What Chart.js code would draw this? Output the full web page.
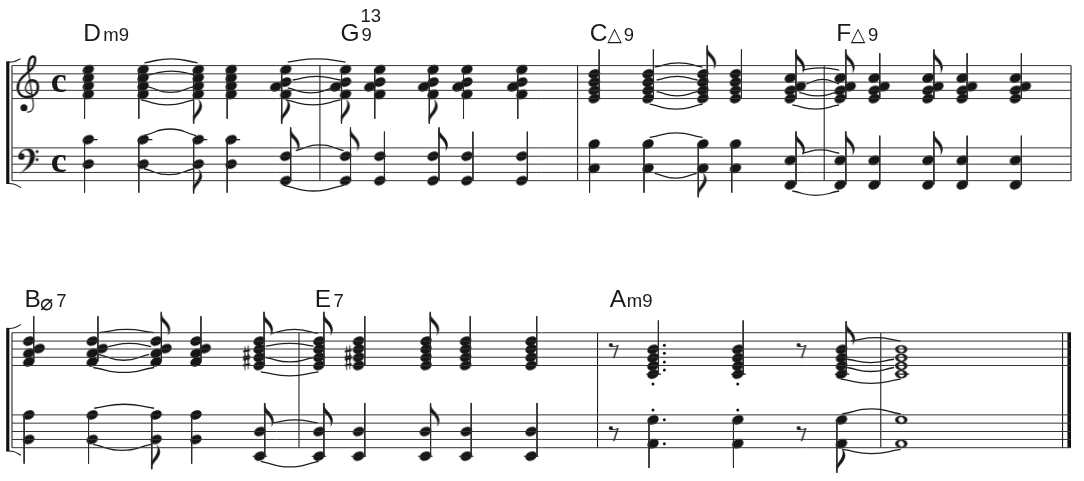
<!DOCTYPE html>
<html><head><meta charset="utf-8">
<style>html,body{margin:0;padding:0;background:#fff}canvas{display:block}</style>
<script src="https://cdn.jsdelivr.net/npm/chart.js@4/dist/chart.umd.min.js"></script>
</head><body><canvas id="c" width="1084" height="481"></canvas>
<script>
// ---------- staves ----------
const staffTop1 = [64.5,72.8,81.1,89.4,97.7];
const staffBot1 = [147.3,155.7,163.7,172,180.3];
const staffTop2 = [333.3,341.7,349.7,358,366.3];
const staffBot2 = [416,424.3,432.7,440.7,449];
const staffSpan = [10.5,1072.5];
const barsSys1 = [10.5,319.3,577.7,825,1072.5];
const barsSys2 = [10.5,298.3,597.7,881.7,1064];
const finalBar = [[1070.7,333.3],[1070.7,449]];
// ---------- chords: x positions and staff heights ----------
const dmX=[87,142,197.3,230.3], dmT=[68.6,77,85.2,93.5], dmB=[139,163.7];
const gX=[285,345,379.3,432.7,466.7,521.7], gT=[68.6,81.1,93.5], gB=[155.7,180.3];
const gXside=[275,335,369.3,423.3,457.7,512.7], gSide=[85.9];
const cX=[594.3,648.3,703.3,736], cT=[72.8,81.1,89.4,97.7], cB=[143.4,167.8];
const fX=[791,841,875,929,963.3,1016.7], fT=[77,89.4,97.7], fB=[159.8,184.5];
const fXside=[801,851,885,939,972.7,1026.7], fSide=[85.6];
const bX=[27.3,91,155,195], bT=[341.7,354,362.7], bB=[416,440.7];
const bXside=[37.7,101,165,204.3], bSide=[349.3];
const eXt=[258.3,318.3,358,425.7,465.3,531], eT=[341.7,349.7,358,366.3];
const eXb=[259,318.3,358,425,466,531], eB=[432.7,457.5];
const amX=[653.3,738.3,842.3], amT=[350,358.5,366.6,375], amB=[421,445];
const wholeX=[902.3];
// ---------- stems [x, top, bottom] ----------
const stemsA=[[83.3,68,118],[137.7,68,118],[192.7,68,123],[226.3,68,118],[281,68,123],[341,68,123],[374.3,68,118],[429,68,123],[463.3,68,118],[517.7,68,118],[599.3,48.3,98],[653.7,48.3,98],[707.7,44.3,98],[742,48.3,98],[796.7,48.3,98],[846.7,48.3,98],[880.7,52,98],[935,48.3,98],[968.3,52,98],[1022.7,52,98]];
const stemsB=[[83.3,138,192.3],[137.7,138,192.3],[192.7,138,193.3],[226.3,138,192.3],[290,126.7,180],[350,126.7,180],[384,131,180],[438.7,126.7,180],[472.7,131,180],[527.3,131,180],[589.7,143,192.3],[644.3,143,192.3],[698.7,143,197],[732.3,143,192.3],[796.7,130.7,184],[846.7,130.7,184],[880.7,135,184],[935,130.7,184],[968.3,135,184],[1022.7,135,184]];
const stemsC=[[32.3,316.7,362],[96.7,316.7,362],[160.3,312.3,362],[200,316.7,362],[263.3,312.3,366],[323.3,312.3,366],[364.3,316.7,366],[430,312.3,366],[470,316.7,366],[536.7,316.7,366],[658.7,321,375],[743.7,321,375],[847,321.7,375]];
const stemsD=[[22.7,416,465],[87.3,416,465],[150.7,416,470.7],[190.7,416,465],[264,404,458],[323.3,404,458],[364.3,404,458],[430.3,404,458],[471,404,458],[537,404,458],[649.3,421,469.3],[734,421,469.3],[837.7,421,474.3]];
// ---------- flags at stem ends ----------
const flagsUp=[[707.7,44.3],[796.7,48.3],[846.7,48.3],[935,48.3],[796.7,130.7],[846.7,130.7],[935,130.7],[290,126.7],[350,126.7],[438.7,126.7],[160.3,312.3],[263.3,312.3],[323.3,312.3],[430,312.3],[847,321.7],[264,404],[323.3,404],[430.3,404]];
const flagsDown=[[192.7,123],[281,123],[341,123],[429,123],[192.7,193.3],[698.7,197],[150.7,470.7],[837.7,474.3]];
// ---------- ties [x0, x1, endY, peakY] ----------
const ties=[[143.3,196.7,61.7,57.7],[147,194,74,70],[147,192,86,91.5],[140,193,99,104],[143,195,135,128.3],[143,192.7,168.3,174.3],
[287,345,61,57.7],[292,340,79,75.3],[287,333,87,92],[285,340,99,104],[295,343,150,144.3],[283,343,185,190.7],
[655,703,66,61.7],[657,698,79,75.3],[657,698,90.7,95],[650,703,103.3,108.3],[650,703,136.7,132.3],[655,697,173,177.7],
[803,840,69,66.7],[807,840,83,78.3],[800,837,91.7,95],[793,840,104,108.3],[803,840,152.7,149.3],[793,840,190.7,195],
[98,153,333.3,330],[107,150,347.3,344],[97,148,355,361],[92,153,368.3,373.3],[93,153,409.3,405.3],[92,150,445.7,451.7],
[270,317,334,330],[265,313,346.7,344],[265,313,358.3,362.7],[260,318,372.7,376.7],[272,317,424,421],[260,318,462.7,468.3],
[851.7,901.7,341.7,338.3],[848,895,360,363.3],[848,895,368.3,372.3],[841.7,901.7,380,384.3],[843,901.7,415,410],[843.3,901.7,450.7,455]];
// ---------- small marks ----------
const ledgers=[[89,139],[144,139],[199,139],[232,139],[259,457.6],[318.3,457.6],[358,457.6],[425,457.6],[466,457.6],[531,457.6],[654,375],[739,375],[843,375],[903,375]];
const dots=[[664.7,346],[664.7,354],[664.7,362.7],[664.7,370.7],[664.7,421],[664.7,445],[653.3,385],[738.3,385],[653.3,411],[738.3,411]];
const sharps=[[245.7,354.5],[245.7,362.5],[347.7,354.5],[347.7,362.5]];
const rests=[[611,345.7],[611,429.3],[799.3,345.7],[799.3,429.3]];
const trebleClef=[[26,83]], bassClef=[[26,160]];
// ---------- text: [string, x, baseline] ----------
const SANS='"Liberation Sans"', SYM='"DejaVu Sans"', SERIF='"Liberation Serif"';
const chordRoots=[["D",82,39.3],["G",340,39.3],["C",590,39.3],["F",837,39.3],["B",23,307.3],["E",314,307.3],["A",610,307.3]];
const chordExt=[["m9",102,39.3],["13",360,20.7],["9",361,39.3],["9",624,39.3],["9",869,39.3],["7",55,307.3],["7",333,307.3],["m9",627,307.3]];
const chordTri=[["△",607.5,39.8],["△",851.5,39.8]];
const chordSlash=[["⌀",38.5,310]];
const timeSig=[["c",49.5,91],["c",49.5,172]];

const INK='#161616', LINE='#2b2b2b';
function sprite(ex,ey,draw){const s=document.createElement('canvas');s.width=ex*2;s.height=ey*2;const g=s.getContext('2d');g.translate(ex,ey);g.fillStyle=INK;g.strokeStyle=INK;g.lineCap='round';draw(g);return s;}
const headSprite=sprite(9,8,g=>{g.beginPath();g.ellipse(0,0,6,4.4,-0.45,0,7);g.fill();});
const wholeSprite=sprite(10,8,g=>{g.beginPath();g.ellipse(0,0,6.2,4.2,0,0,7);g.ellipse(0,0,3,2.6,0.9,0,7);g.fill('evenodd');});
const flagUpSprite=sprite(12,26,g=>{g.beginPath();g.moveTo(-.6,0);g.bezierCurveTo(.5,6,4.5,8,7,12);g.bezierCurveTo(9.5,16,9.5,20,6.4,24);g.bezierCurveTo(8,19,6,13.5,-.6,9);g.closePath();g.fill();});
const flagDownSprite=sprite(12,28,g=>{g.beginPath();g.moveTo(-.6,0);g.bezierCurveTo(.5,-6,5,-9,7,-13);g.bezierCurveTo(9.5,-17,8.5,-21,4.5,-25);g.bezierCurveTo(7,-20,6,-15,-.6,-8);g.closePath();g.fill();});
const sharpSprite=sprite(6,11,g=>{g.lineWidth=.9;g.beginPath();g.moveTo(-1.6,-7);g.lineTo(-1.6,8);g.moveTo(1.6,-8);g.lineTo(1.6,7);g.stroke();g.lineWidth=2;g.lineCap='butt';g.beginPath();g.moveTo(-3.4,-2.2);g.lineTo(3.4,-3.8);g.moveTo(-3.4,3.8);g.lineTo(3.4,2.2);g.stroke();});
const restSprite=sprite(10,16,g=>{g.beginPath();g.arc(0,0,2,0,7);g.fill();g.lineWidth=1;g.beginPath();g.moveTo(0,1.2);g.quadraticCurveTo(4,2.4,7,.6);g.stroke();g.lineWidth=1.4;g.beginPath();g.moveTo(7,.6);g.lineTo(3,12.6);g.stroke();});
const trebleSprite=sprite(16,32,g=>{g.translate(-26,-83);
  g.lineWidth=1.3;g.beginPath();g.moveTo(29.5,93);g.bezierCurveTo(24,92,22,86,27,81);g.stroke();
  g.lineWidth=2.5;g.beginPath();g.moveTo(27,81);g.bezierCurveTo(30,78,36.5,79,36.5,86);g.bezierCurveTo(36.5,94,30,96,25,96);g.bezierCurveTo(18,96,15,89,17,83);g.stroke();
  g.lineWidth=2.4;g.beginPath();g.moveTo(17,83);g.bezierCurveTo(18.5,76,26,73,31,67);g.bezierCurveTo(34.5,62,34.5,55.5,32,55.5);g.bezierCurveTo(28,55.5,26.5,62,27,70);g.stroke();
  g.lineWidth=1.2;g.beginPath();g.moveTo(27,70);g.lineTo(31.5,100);g.bezierCurveTo(33,108,30,111.5,26,111);g.stroke();
  g.beginPath();g.arc(22.5,106.7,3.5,0,7);g.fill();});
const bassSprite=sprite(14,16,g=>{g.translate(-26,-160);
  g.beginPath();g.moveTo(17.3,156);g.bezierCurveTo(17.3,150.5,23,147.5,27.5,148);g.bezierCurveTo(35.5,149,35,160,29,165.5);g.bezierCurveTo(26,168.5,21,172,17.6,173.6);g.bezierCurveTo(23,169.5,27.5,164,28.5,158);g.bezierCurveTo(29.5,152,27,149.3,24,149.7);g.bezierCurveTo(21,150,19.8,151.6,19.8,153.6);g.closePath();g.fill();
  g.beginPath();g.arc(20,156,3.2,0,7);g.fill();
  g.beginPath();g.arc(35.7,151,1.5,0,7);g.arc(35.7,159,1.5,0,7);g.fill();});

const pts=a=>a.map(p=>({x:p[0],y:p[1]}));
const chord=(xs,ys)=>xs.flatMap(x=>ys.map(y=>({x,y})));
const GAP={x:null,y:null};
const joined=segs=>segs.flatMap(s=>[...s,GAP]);
const lineSet=(data,w,color,extra)=>Object.assign({type:'scatter',data,showLine:true,borderColor:color||LINE,borderWidth:w,pointRadius:0,spanGaps:false,tension:0},extra||{});
const markSet=(data,style,r)=>({type:'scatter',data,showLine:false,pointStyle:style,pointRadius:r||1,pointHoverRadius:r||1,backgroundColor:INK,borderColor:INK,borderWidth:0});
const staffSegs=[...staffTop1,...staffBot1,...staffTop2,...staffBot2].map(y=>staffSpan.map(x=>({x,y})));
const barSegs=[...barsSys1.map(x=>[{x,y:64.5},{x,y:180.3}]),...barsSys2.map(x=>[{x,y:333.3},{x,y:449}])];
const stemSegs=[...stemsA,...stemsB,...stemsC,...stemsD].map(s=>[{x:s[0],y:s[1]},{x:s[0],y:s[2]}]);
const ledgerSegs=ledgers.map(l=>[{x:l[0]-7.3,y:l[1]},{x:l[0]+7.3,y:l[1]}]);
const bracketBars=[[{x:6.3,y:60.5},{x:6.3,y:183.5}],[{x:6.3,y:329},{x:6.3,y:452.5}]];
const bracketHooks=[[[5,61],[12,60.6],[19,57.5]],[[5,183],[12,183.6],[19.5,187.3]],[[5,329],[12,328.6],[19.5,325]],[[5,452.3],[12,452.9],[19.5,456.7]]];
const tieSets=ties.map(t=>lineSet([{x:t[0],y:t[2]},{x:(t[0]+t[1])/2,y:t[3]},{x:t[1],y:t[2]}],1.3,'#1e1e1e',{tension:.55}));

const textPlugin={id:'scoreText',afterDatasetsDraw(ch){
  const {ctx,scales:{x,y}}=ch;ctx.save();ctx.fillStyle='#1a1a1a';ctx.textBaseline='alphabetic';
  const put=(list,font)=>{ctx.font=font;list.forEach(t=>ctx.fillText(t[0],x.getPixelForValue(t[1]),y.getPixelForValue(t[2])));};
  put(chordRoots,'24.5px '+SANS);put(chordExt,'18.5px '+SANS);put(chordTri,'19px '+SYM);put(chordSlash,'22px '+SYM);put(timeSig,'bold 36px '+SERIF);
  ctx.restore();}};

new Chart(document.getElementById('c'),{
  data:{datasets:[
    lineSet(joined(staffSegs),1,'#333'),
    lineSet(joined(barSegs),1.1,'#222'),
    lineSet(finalBar.map(p=>({x:p[0],y:p[1]})),3.6,'#111'),
    lineSet(joined(bracketBars),3.2,'#111'),
    ...bracketHooks.map(h=>lineSet(pts(h),1.1,'#222',{tension:.4})),
    lineSet(joined(stemSegs),1,'#2a2a2a'),
    lineSet(joined(ledgerSegs),1.1,'#222'),
    ...tieSets,
    markSet([...chord(dmX,dmT),...chord(dmX,dmB),...chord(gX,gT),...chord(gXside,gSide),...chord(gX,gB),
      ...chord(cX,cT),...chord(cX,cB),...chord(fX,fT),...chord(fXside,fSide),...chord(fX,fB),
      ...chord(bX,bT),...chord(bXside,bSide),...chord(bX,bB),...chord(eXt,eT),...chord(eXb,eB),
      ...chord(amX,amT),...chord(amX,amB)],headSprite),
    markSet([...chord(wholeX,amT),...chord(wholeX,amB)],wholeSprite),
    markSet(pts(flagsUp),flagUpSprite),
    markSet(pts(flagsDown),flagDownSprite),
    markSet(pts(sharps),sharpSprite),
    markSet(pts(rests),restSprite),
    markSet(pts(trebleClef),trebleSprite),
    markSet(pts(bassClef),bassSprite),
    markSet(pts(dots),'circle',1.5)
  ]},
  options:{responsive:false,animation:false,events:[],
    layout:{padding:0},
    plugins:{legend:{display:false},tooltip:{enabled:false}},
    scales:{x:{type:'linear',min:0,max:1084,display:false},y:{type:'linear',min:0,max:481,reverse:true,display:false}}},
  plugins:[textPlugin]
});
</script></body></html>
